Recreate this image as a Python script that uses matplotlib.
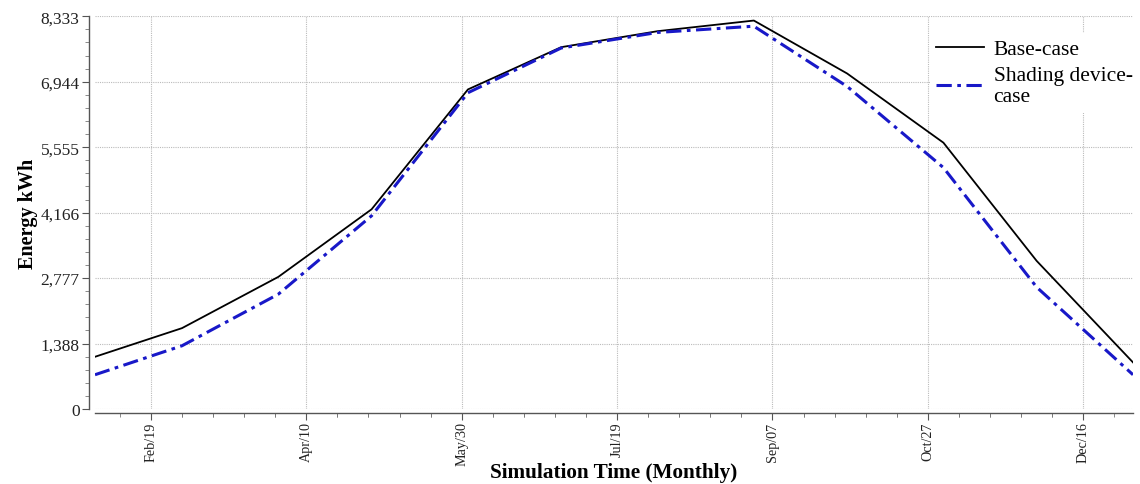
import matplotlib
matplotlib.use("Agg")
import matplotlib.pyplot as plt
import matplotlib.dates as mdates
from matplotlib.ticker import AutoMinorLocator, FixedLocator
import datetime as dt

# ---- data ----
months = ["2002-02-01", "2002-03-01", "2002-04-01", "2002-05-01", "2002-06-01", "2002-07-01",
          "2002-08-01", "2002-09-01", "2002-10-01", "2002-11-01", "2002-12-01", "2003-01-01"]
base_case = [1108, 1716, 2804, 4238, 6781, 7678, 8017, 8243, 7120, 5651, 3143, 989]
shading_case = [727, 1342, 2437, 4100, 6711, 7660, 7990, 8123, 6845, 5122, 2585, 727]
xtick_dates = ["2002-02-19", "2002-04-10", "2002-05-30", "2002-07-19", "2002-09-07", "2002-10-27", "2002-12-16"]
xtick_labels = ["Feb/19", "Apr/10", "May/30", "Jul/19", "Sep/07", "Oct/27", "Dec/16"]
ytick_values = [0, 1388.83, 2777.67, 4166.5, 5555.33, 6944.17, 8333]
ytick_labels = ["0", "1,388", "2,777", "4,166", "5,555", "6,944", "8,333"]

x = [mdates.date2num(dt.datetime.strptime(m, "%Y-%m-%d")) for m in months]
xt = [mdates.date2num(dt.datetime.strptime(d, "%Y-%m-%d")) for d in xtick_dates]

plt.rcParams['font.family'] = ['Liberation Serif', 'DejaVu Serif']

fig = plt.figure(figsize=(11.4, 4.85), dpi=100)
ax = fig.add_axes([95/1140, 1 - 410/485, (1133 - 95)/1140, (410 - 17.3)/485])

ax.plot(x, base_case, color="black", lw=1.3, label="Base-case", zorder=3)
ax.plot(x, shading_case, color="#1818c8", lw=2.2, dashes=(5, 1.8, 1.2, 1.8),
        label="Shading device-\ncase", zorder=3)

ax.set_xlim(x[0], x[-1])
ax.set_ylim(0, 8333)

ax.set_xticks(xt)
ax.set_xticklabels(xtick_labels)
minor = []
for t in xt:
    for k in range(-5, 5):
        minor.append(t + k * 10)
ax.xaxis.set_minor_locator(FixedLocator(minor))

ax.set_yticks(ytick_values)
ax.set_yticklabels(ytick_labels)
ax.yaxis.set_minor_locator(AutoMinorLocator(5))

ax.grid(True, which="major", color="#bbbbbb", linestyle=(0, (1, 1)), linewidth=0.8)

for s in ["top", "right"]:
    ax.spines[s].set_visible(False)
ax.spines["left"].set_position(("outward", 4))
ax.spines["bottom"].set_position(("outward", 3))
for s in ["left", "bottom"]:
    ax.spines[s].set_color("#555555")
    ax.spines[s].set_linewidth(1.0)

ax.tick_params(axis="both", which="major", length=5, color="#555555",
               labelcolor="#222222")
ax.tick_params(axis="y", which="major", labelsize=12.5, pad=2)
ax.tick_params(axis="x", which="major", labelsize=10.2, labelrotation=90, pad=1)
ax.tick_params(axis="both", which="minor", length=3, color="#777777")

ax.set_xlabel("Simulation Time (Monthly)", fontsize=15.3, fontweight="bold")
ax.xaxis.set_label_coords(0.5, -0.135)
ax.set_ylabel("Energy kWh", fontsize=14.5, fontweight="bold", labelpad=2)

leg = ax.legend(loc="upper right", bbox_to_anchor=(1.012, 0.975), frameon=True, fontsize=15.5,
                handlelength=2.2, handletextpad=0.45, labelspacing=0.3, borderaxespad=0.3,
                borderpad=0.3)
leg.get_frame().set_edgecolor("none")
leg.get_frame().set_facecolor("white")
leg.get_frame().set_alpha(1.0)

fig.savefig("out.png", dpi=100)
